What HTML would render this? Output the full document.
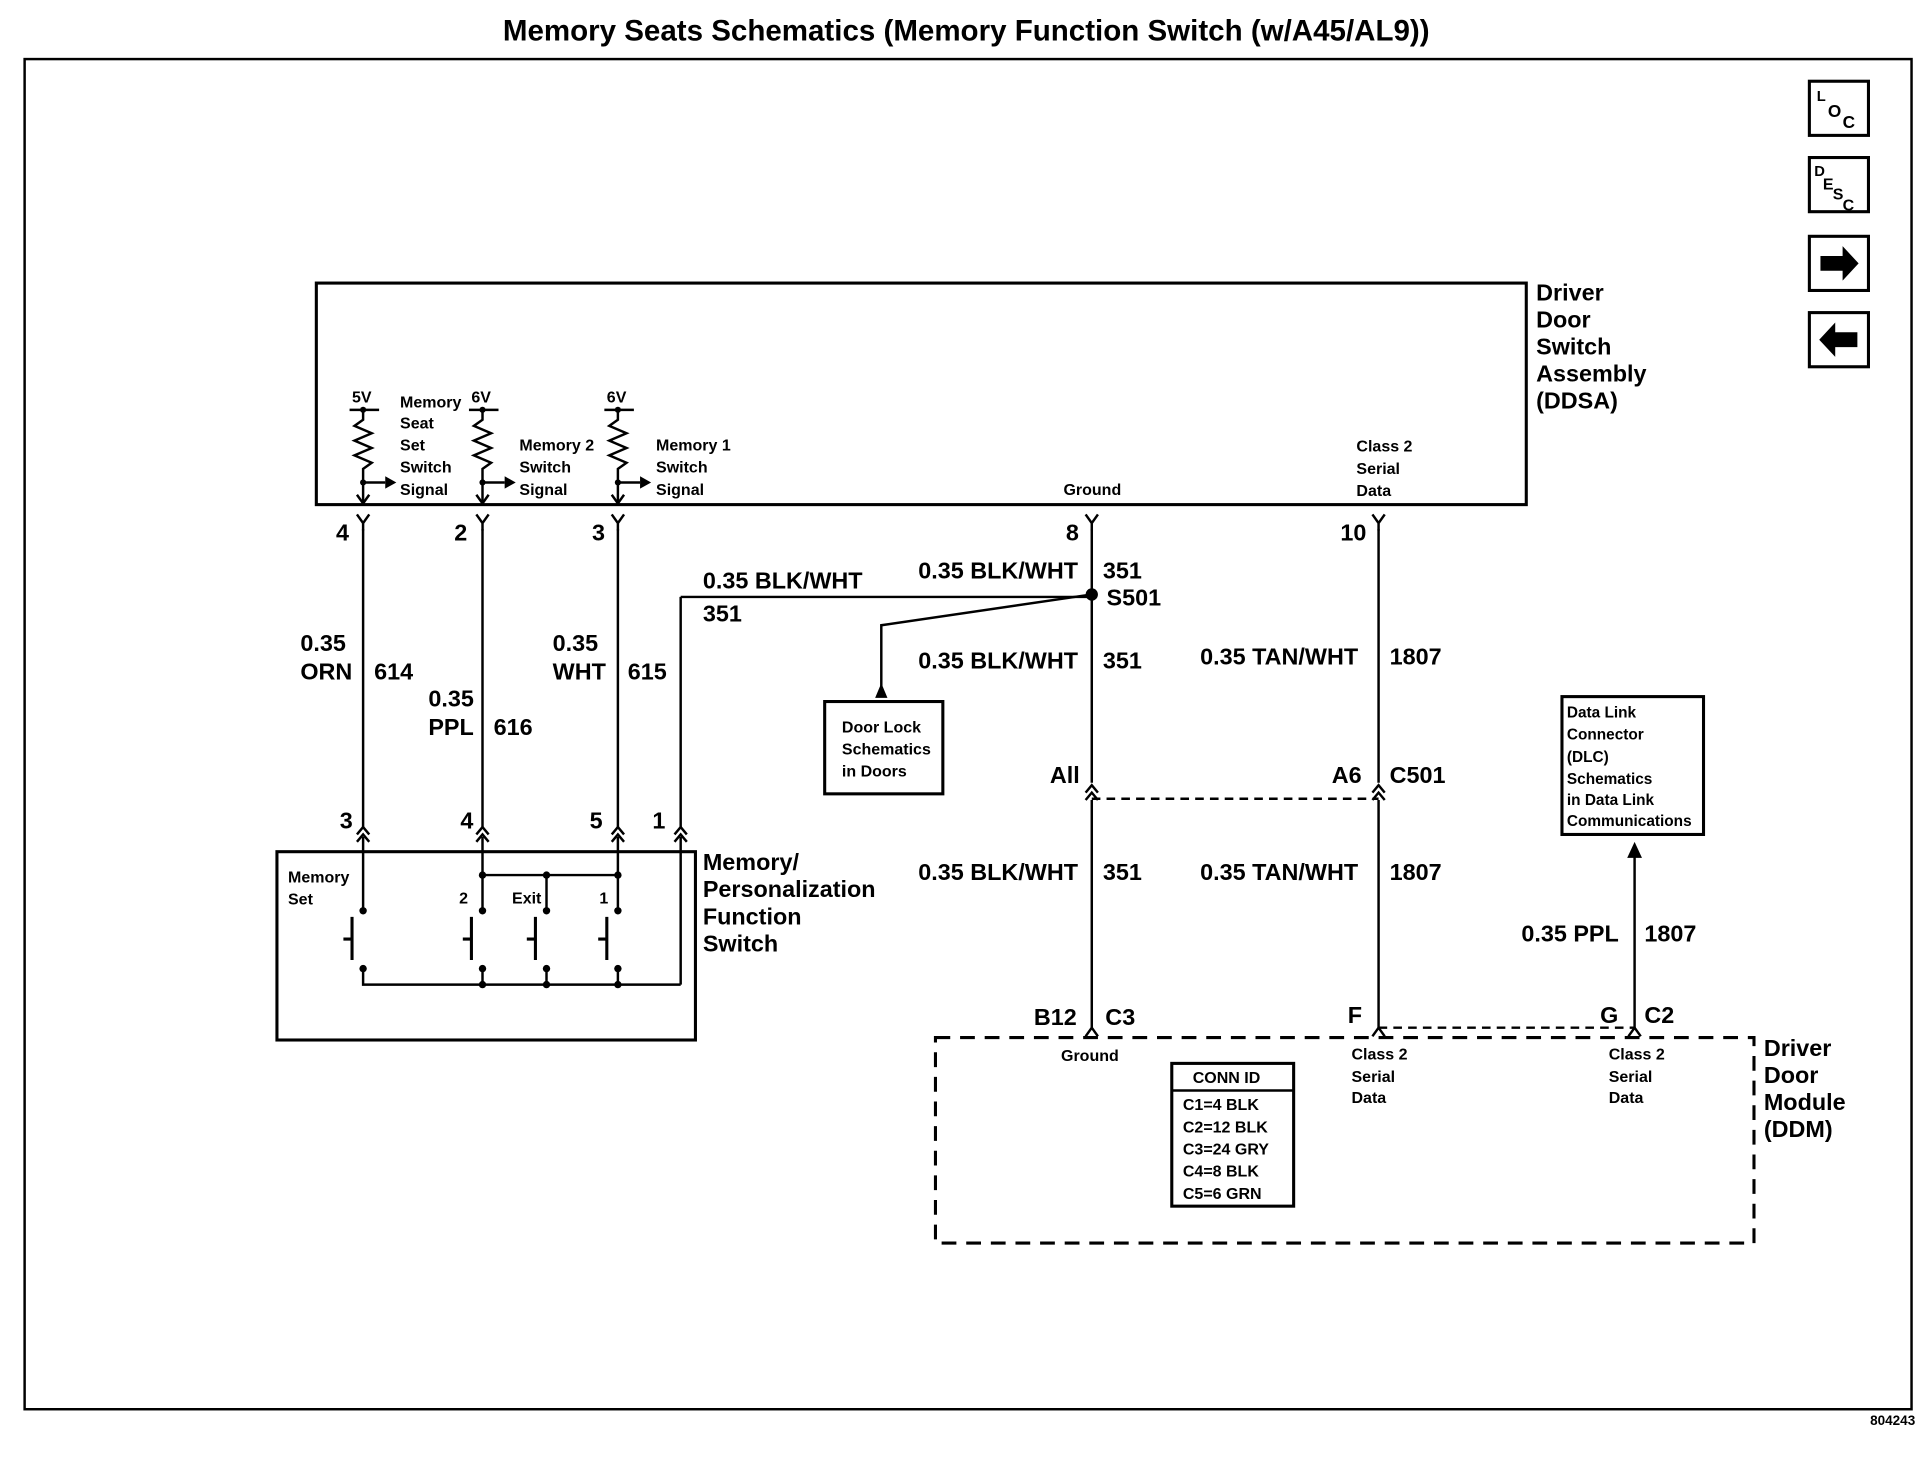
<!DOCTYPE html>
<html><head><meta charset="utf-8"><style>
html,body{margin:0;padding:0;background:#fff}
svg{display:block}
text{font-family:"Liberation Sans",sans-serif;font-weight:bold;fill:#000}
</style></head><body>
<svg width="1930" height="1472" viewBox="0 0 1568 1196" preserveAspectRatio="none" xmlns="http://www.w3.org/2000/svg">
<defs>
<g id="fy"><path d="M-5,-7 L0,0 L5,-7 M0,0 V6" fill="none" stroke="#000" stroke-width="2"/></g>
<g id="mc"><path d="M-5,6 L0,0 L5,6 M-5,12 L0,6 L5,12" fill="none" stroke="#000" stroke-width="2"/></g>
</defs>
<text x="785" y="33" font-size="24" text-anchor="middle">Memory Seats Schematics (Memory Function Switch (w/A45/AL9))</text>
<rect x="20" y="48" width="1533" height="1097" fill="none" stroke="#000" stroke-width="2"/>
<text x="1556" y="1158" font-size="11" text-anchor="end">804243</text>
<g fill="none" stroke="#000" stroke-width="2.5">
<rect x="1470" y="66" width="48" height="44"/><rect x="1470" y="128" width="48" height="44"/>
<rect x="1470" y="192" width="48" height="44"/><rect x="1470" y="254" width="48" height="44"/>
</g>
<text x="1476" y="82" font-size="12">L</text><text x="1485" y="95" font-size="14">O</text><text x="1497" y="104" font-size="14">C</text>
<text x="1474" y="143" font-size="12">D</text><text x="1481" y="154" font-size="13">E</text><text x="1489" y="162" font-size="13">S</text><text x="1497" y="171" font-size="13">C</text>
<path d="M1479,208 h18 v-8 l13,14 l-13,14 v-8 h-18z" fill="#000"/>
<path d="M1509,270 h-18 v-8 l-13,14 l13,14 v-8 h18z" fill="#000"/>
<rect x="257" y="230" width="983" height="180" fill="none" stroke="#000" stroke-width="2.5"/>
<g font-size="19"><text x="1248" y="244">Driver</text><text x="1248" y="266">Door</text><text x="1248" y="288">Switch</text><text x="1248" y="310">Assembly</text><text x="1248" y="332">(DDSA)</text></g>
<g stroke="#000" stroke-width="2" fill="none">
<path d="M284,333 h24 M295,333 v8 l-7,5 l14,6 l-14,6 l14,6 l-14,6 l14,6 l-7,5 v30 M295,392 h18"/>
<path d="M381,333 h24 M392,333 v8 l-7,5 l14,6 l-14,6 l14,6 l-14,6 l14,6 l-7,5 v30 M392,392 h18"/>
<path d="M491,333 h24 M502,333 v8 l-7,5 l14,6 l-14,6 l14,6 l-14,6 l14,6 l-7,5 v30 M502,392 h18"/>
<path d="M290,402 l5,7 l5,-7 M387,402 l5,7 l5,-7 M497,402 l5,7 l5,-7"/>
</g>
<g fill="#000"><circle cx="295" cy="333" r="2.5"/><circle cx="392" cy="333" r="2.5"/><circle cx="502" cy="333" r="2.5"/>
<circle cx="295" cy="392" r="2.5"/><circle cx="392" cy="392" r="2.5"/><circle cx="502" cy="392" r="2.5"/>
<path d="M313,387 l9,5 l-9,5z"/><path d="M410,387 l9,5 l-9,5z"/><path d="M520,387 l9,5 l-9,5z"/></g>
<g font-size="13"><text x="286" y="327">5V</text><text x="383" y="327">6V</text><text x="493" y="327">6V</text>
<text x="325" y="331">Memory</text><text x="325" y="348">Seat</text><text x="325" y="366">Set</text><text x="325" y="384">Switch</text><text x="325" y="402">Signal</text>
<text x="422" y="366">Memory 2</text><text x="422" y="384">Switch</text><text x="422" y="402">Signal</text>
<text x="533" y="366">Memory 1</text><text x="533" y="384">Switch</text><text x="533" y="402">Signal</text>
<text x="864" y="402">Ground</text><text x="1102" y="367">Class 2</text><text x="1102" y="385">Serial</text><text x="1102" y="403">Data</text></g>
<use href="#fy" x="295" y="425"/><use href="#fy" x="392" y="425"/><use href="#fy" x="502" y="425"/><use href="#fy" x="887" y="425"/><use href="#fy" x="1120" y="425"/>
<g stroke="#000" stroke-width="2" fill="none">
<path d="M295,430 V672 M392,430 V672 M502,430 V672 M553,485 V672 M553,485 H887"/>
<path d="M887,430 V636 M887,650 V835 M1120,430 V636 M1120,650 V835"/>
<path d="M887,483 L716,508 V565"/>
<path d="M1328,695 V835"/>
<path d="M887,649 H1120 M1120,835 H1328" stroke-dasharray="7,5"/>
</g>
<circle cx="887" cy="483" r="5" fill="#000"/>
<path d="M716,555 l-5,12 h10z" fill="#000"/>
<path d="M1328,684 l-6,13 h12z" fill="#000"/>
<use href="#mc" x="887" y="638"/><use href="#mc" x="1120" y="638"/>
<use href="#mc" x="295" y="672"/><use href="#mc" x="392" y="672"/><use href="#mc" x="502" y="672"/><use href="#mc" x="553" y="672"/>
<path d="M882,842 l5,-7 l5,7 M1115,842 l5,-7 l5,7 M1323,842 l5,-7 l5,7" fill="none" stroke="#000" stroke-width="2"/>
<g font-size="19">
<text x="273" y="439">4</text><text x="369" y="439">2</text><text x="481" y="439">3</text><text x="866" y="439">8</text><text x="1089" y="439">10</text>
<text x="244" y="529">0.35</text><text x="244" y="552">ORN</text><text x="304" y="552">614</text>
<text x="348" y="574">0.35</text><text x="348" y="597">PPL</text><text x="401" y="597">616</text>
<text x="449" y="529">0.35</text><text x="449" y="552">WHT</text><text x="510" y="552">615</text>
<text x="571" y="478">0.35 BLK/WHT</text><text x="571" y="505">351</text>
<text x="746" y="470">0.35 BLK/WHT</text><text x="896" y="470">351</text><text x="899" y="492">S501</text>
<text x="746" y="543">0.35 BLK/WHT</text><text x="896" y="543">351</text>
<text x="975" y="540">0.35 TAN/WHT</text><text x="1129" y="540">1807</text>
<text x="853" y="636">All</text><text x="1082" y="636">A6</text><text x="1129" y="636">C501</text>
<text x="746" y="715">0.35 BLK/WHT</text><text x="896" y="715">351</text>
<text x="975" y="715">0.35 TAN/WHT</text><text x="1129" y="715">1807</text>
<text x="1236" y="765">0.35 PPL</text><text x="1336" y="765">1807</text>
<text x="840" y="833">B12</text><text x="898" y="833">C3</text><text x="1095" y="831">F</text><text x="1300" y="831">G</text><text x="1336" y="831">C2</text>
<text x="276" y="673">3</text><text x="374" y="673">4</text><text x="479" y="673">5</text><text x="530" y="673">1</text>
<text x="571" y="707">Memory/</text><text x="571" y="729">Personalization</text><text x="571" y="751">Function</text><text x="571" y="773">Switch</text>
<text x="1433" y="858">Driver</text><text x="1433" y="880">Door</text><text x="1433" y="902">Module</text><text x="1433" y="924">(DDM)</text>
</g>
<rect x="670" y="570" width="96" height="75" fill="none" stroke="#000" stroke-width="2.5"/>
<g font-size="13"><text x="684" y="595">Door Lock</text><text x="684" y="613">Schematics</text><text x="684" y="631">in Doors</text></g>
<rect x="1269" y="566" width="115" height="112" fill="none" stroke="#000" stroke-width="2.5"/>
<g font-size="12.5"><text x="1273" y="583">Data Link</text><text x="1273" y="601">Connector</text><text x="1273" y="619">(DLC)</text><text x="1273" y="637">Schematics</text><text x="1273" y="654">in Data Link</text><text x="1273" y="671">Communications</text></g>
<rect x="760" y="843" width="665" height="167" fill="none" stroke="#000" stroke-width="2.5" stroke-dasharray="12,8"/>
<g font-size="13"><text x="862" y="862">Ground</text>
<text x="1098" y="861">Class 2</text><text x="1098" y="879">Serial</text><text x="1098" y="896">Data</text>
<text x="1307" y="861">Class 2</text><text x="1307" y="879">Serial</text><text x="1307" y="896">Data</text></g>
<rect x="952" y="864" width="99" height="116" fill="none" stroke="#000" stroke-width="2.5"/>
<line x1="952" y1="886" x2="1051" y2="886" stroke="#000" stroke-width="2"/>
<g font-size="13"><text x="969" y="880">CONN ID</text><text x="961" y="902">C1=4 BLK</text><text x="961" y="920">C2=12 BLK</text><text x="961" y="938">C3=24 GRY</text><text x="961" y="956">C4=8 BLK</text><text x="961" y="974">C5=6 GRN</text></g>
<rect x="225" y="692" width="340" height="153" fill="none" stroke="#000" stroke-width="2.5"/>
<g font-size="13"><text x="234" y="717">Memory</text><text x="234" y="735">Set</text><text x="373" y="734">2</text><text x="416" y="734">Exit</text><text x="487" y="734">1</text></g>
<g stroke="#000" stroke-width="2" fill="none">
<path d="M295,680 V740 M392,680 V740 M502,680 V740 M553,680 V800 M444,711 V740 M392,711 H502"/>
<path d="M295,787 V800 H553 M392,787 V800 M444,787 V800 M502,787 V800"/>
<path d="M286,745 V780 M279,763 H286 M383,745 V780 M376,763 H383 M435,745 V780 M428,763 H435 M493,745 V780 M486,763 H493" stroke-width="2.5"/>
</g>
<g fill="#000">
<circle cx="295" cy="740" r="3"/><circle cx="392" cy="740" r="3"/><circle cx="444" cy="740" r="3"/><circle cx="502" cy="740" r="3"/>
<circle cx="295" cy="787" r="3"/><circle cx="392" cy="787" r="3"/><circle cx="444" cy="787" r="3"/><circle cx="502" cy="787" r="3"/>
<circle cx="392" cy="711" r="3"/><circle cx="444" cy="711" r="3"/><circle cx="502" cy="711" r="3"/>
<circle cx="392" cy="800" r="3"/><circle cx="444" cy="800" r="3"/><circle cx="502" cy="800" r="3"/>
</g>
</svg>
</body></html>
